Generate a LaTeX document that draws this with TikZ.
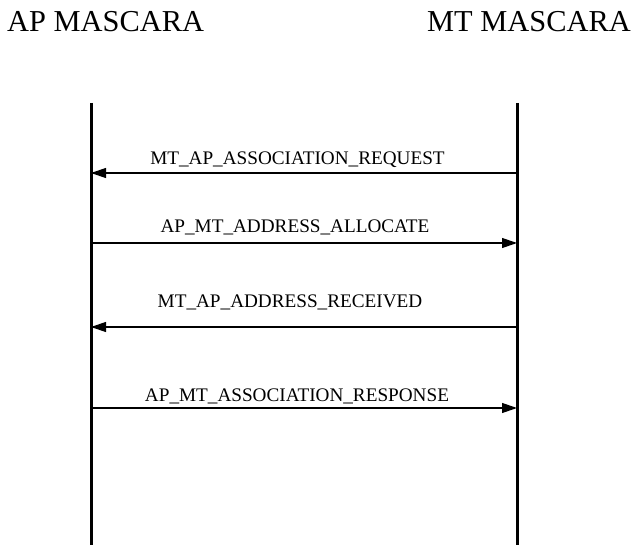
\documentclass[tikz,border=0pt]{standalone}
\usepackage{fontspec}
\setmainfont{Liberation Serif}
\usetikzlibrary{arrows.meta}

\tikzset{
  lifeline/.style={line width=3pt},
  msg/.style={line width=1.2pt,-{Triangle[length=15pt,width=10pt]}},
  msglabel/.style={font=\fontsize{19.2}{22}\selectfont,anchor=base,inner sep=0pt},
  title/.style={font=\fontsize{30.4}{35}\selectfont,anchor=base west,inner sep=0pt}
}

\begin{document}
\begin{tikzpicture}[x=1pt,y=1pt,yscale=-1]
	\useasboundingbox (0,0) rectangle (632,545);

	% Text Node
	\node [title] (apname) at (7,32) {AP MASCARA};
	% Text Node
	\node [title] (mtname) at (427,32) {MT MASCARA};

	%Lifelines
	\coordinate (aptop) at (91,103);
	\coordinate (apbot) at (91,545);
	\coordinate (mttop) at (517,103);
	\coordinate (mtbot) at (517,545);
	\draw [lifeline] (aptop) -- (apbot);
	\draw [lifeline] (mttop) -- (mtbot);

	%Message ends
	\coordinate (ap1) at (91,173);  \coordinate (mt1) at (517,173);
	\coordinate (ap2) at (91,243);  \coordinate (mt2) at (517,243);
	\coordinate (ap3) at (91,327);  \coordinate (mt3) at (517,327);
	\coordinate (ap4) at (91,408);  \coordinate (mt4) at (517,408);

	%Straight Lines
	\draw [msg] (mt1) -- (ap1);
	\draw [msg] (ap2) -- (mt2);
	\draw [msg] (mt3) -- (ap3);
	\draw [msg] (ap4) -- (mt4);

	% Text Node
	\node [msglabel] (req) at (297.5,165) {MT\_AP\_ASSOCIATION\_REQUEST};
	% Text Node
	\node [msglabel] (alloc) at (295,233) {AP\_MT\_ADDRESS\_ALLOCATE};
	% Text Node
	\node [msglabel] (recv) at (290,308) {MT\_AP\_ADDRESS\_RECEIVED};
	% Text Node
	\node [msglabel] (resp) at (297,401) {AP\_MT\_ASSOCIATION\_RESPONSE};
\end{tikzpicture}
\end{document}
